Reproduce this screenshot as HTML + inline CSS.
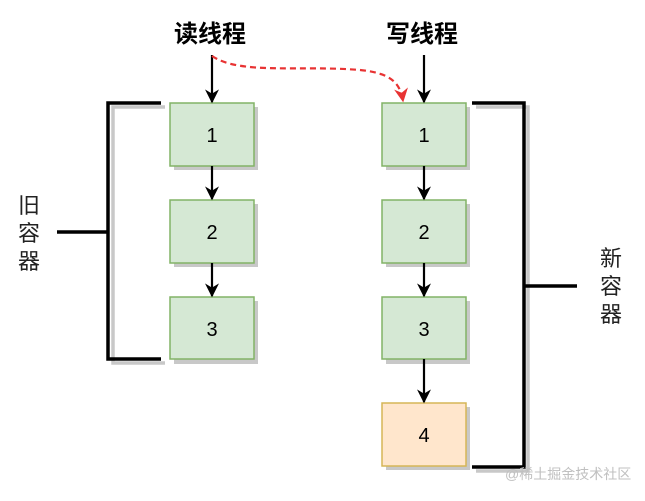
<!DOCTYPE html>
<html><head><meta charset="utf-8"><style>
body{margin:0;background:#fff;width:645px;height:496px;overflow:hidden}
</style></head><body>
<svg width="645" height="496" xmlns="http://www.w3.org/2000/svg" font-family="Liberation Sans, Noto Sans CJK SC, sans-serif">
<defs>
<marker id="a" viewBox="0 0 10 10" refX="9" refY="5" markerWidth="14" markerHeight="14" orient="auto" markerUnits="userSpaceOnUse"><path d="M0,0 L10,5 L0,10 L3,5z" fill="#000"/></marker>
<marker id="r" viewBox="0 0 10 10" refX="9" refY="5" markerWidth="14" markerHeight="14" orient="auto" markerUnits="userSpaceOnUse"><path d="M0,0 L10,5 L0,10 L3,5z" fill="#e83333"/></marker>
</defs>
<path d="M165,107 H113 V363 H165" fill="none" stroke="#c8c8c8" stroke-width="3.5"/>
<path d="M476,107 H528 V471 H476" fill="none" stroke="#c8c8c8" stroke-width="3.5"/>
<path d="M161,103 H108 V359 H161 M108,232 H57" fill="none" stroke="#000" stroke-width="3.5"/>
<path d="M472,103 H524 V467 H472 M524,286 H577" fill="none" stroke="#000" stroke-width="3.5"/>
<g stroke-width="1.5">
<rect x="174" y="107" width="84" height="63" fill="#c8c8c8"/>
<rect x="174" y="204" width="84" height="63" fill="#c8c8c8"/>
<rect x="174" y="301" width="84" height="63" fill="#c8c8c8"/>
<rect x="386" y="107" width="84" height="63" fill="#c8c8c8"/>
<rect x="386" y="204" width="84" height="63" fill="#c8c8c8"/>
<rect x="386" y="301" width="84" height="63" fill="#c8c8c8"/>
<rect x="386" y="407" width="84" height="63" fill="#c8c8c8"/>
<rect x="170" y="103" width="84" height="63" fill="#d5e8d4" stroke="#82b366"/>
<rect x="170" y="200" width="84" height="63" fill="#d5e8d4" stroke="#82b366"/>
<rect x="170" y="297" width="84" height="62" fill="#d5e8d4" stroke="#82b366"/>
<rect x="382" y="103" width="84" height="63" fill="#d5e8d4" stroke="#82b366"/>
<rect x="382" y="200" width="84" height="63" fill="#d5e8d4" stroke="#82b366"/>
<rect x="382" y="297" width="84" height="62" fill="#d5e8d4" stroke="#82b366"/>
<rect x="382" y="403" width="84" height="63" fill="#ffe6cc" stroke="#d6b656"/>
</g>
<g font-size="20" text-anchor="middle" fill="#000">
<text x="212" y="142">1</text><text x="212" y="239">2</text><text x="212" y="336">3</text>
<text x="424" y="142">1</text><text x="424" y="239">2</text><text x="424" y="336">3</text><text x="424" y="442">4</text>
</g>
<g stroke="#000" stroke-width="2.2" marker-end="url(#a)">
<line x1="212" y1="55" x2="212" y2="102"/>
<line x1="212" y1="166" x2="212" y2="199"/>
<line x1="212" y1="263" x2="212" y2="296"/>
<line x1="424" y1="55" x2="424" y2="102"/>
<line x1="424" y1="166" x2="424" y2="199"/>
<line x1="424" y1="263" x2="424" y2="296"/>
<line x1="424" y1="359" x2="424" y2="402"/>
</g>
<path d="M212,56 C240,75 300,65 360,70 C390,73 400,82 403,101" fill="none" stroke="#e83333" stroke-width="2.2" stroke-dasharray="6,4" marker-end="url(#r)"/>
<g font-size="24" font-weight="bold" text-anchor="middle">
<text x="210" y="42">读线程</text><text x="422" y="42">写线程</text>
</g>
<g font-size="22" text-anchor="middle" fill="#222">
<text x="29" y="213">旧</text><text x="29" y="241">容</text><text x="29" y="269">器</text>
<text x="611" y="266">新</text><text x="611" y="294">容</text><text x="611" y="322">器</text>
</g>
<text x="505" y="479" font-size="14" fill="#c0c0c0">@稀土掘金技术社区</text>
</svg>
</body></html>
